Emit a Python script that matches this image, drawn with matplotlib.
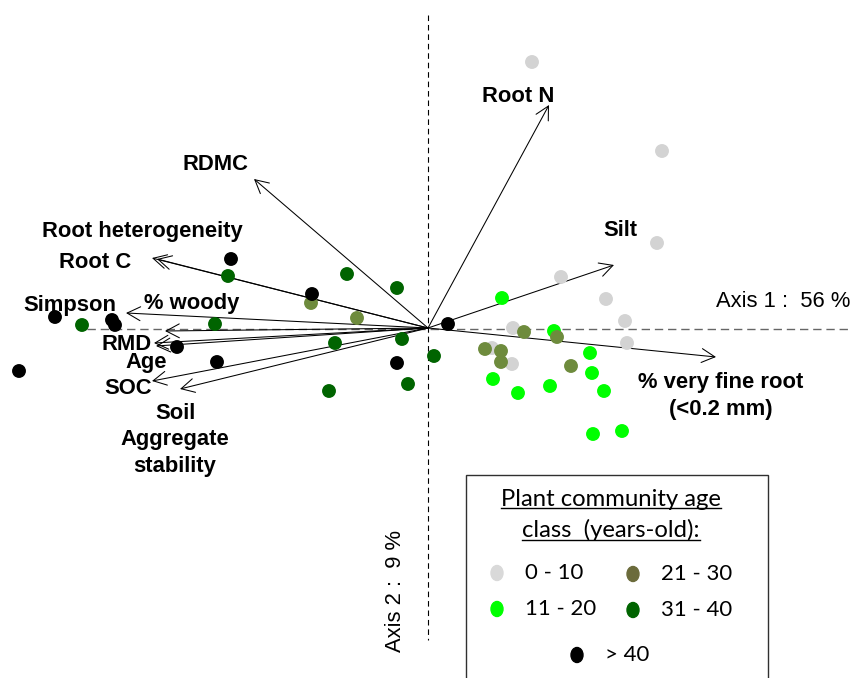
import matplotlib
matplotlib.use('Agg')
import matplotlib.pyplot as plt
from matplotlib.patches import Ellipse, Rectangle

# site scores on axes 1 and 2, by age class
grey_x = [1.04, 2.34, 2.29, 1.33, 1.78, 1.97, 1.99, 0.85, 0.64, 0.84]
grey_y = [2.66, 1.77, 0.85, 0.51, 0.29, 0.07, -0.15, 0.00, -0.20, -0.36]
lgreen_x = [0.74, 1.26, 1.62, 1.64, 1.76, 0.65, 0.90, 1.22, 1.65, 1.94]
lgreen_y = [0.30, -0.03, -0.25, -0.45, -0.63, -0.51, -0.65, -0.58, -1.06, -1.03]
olive_x = [-1.17, -0.71, 0.57, 0.73, 0.73, 0.96, 1.29, 1.43]
olive_y = [0.25, 0.10, -0.21, -0.23, -0.34, -0.04, -0.09, -0.38]
dgreen_x = [-2.00, -0.81, -0.31, -2.13, -3.46, -0.93, -0.26, 0.06, -0.20, -0.99]
dgreen_y = [0.52, 0.54, 0.40, 0.04, 0.03, -0.15, -0.11, -0.28, -0.56, -0.63]
black_x = [-1.97, -1.16, 0.20, -3.73, -3.16, -3.13, -2.51, -4.09, -2.11, -0.31]
black_y = [0.69, 0.34, 0.04, 0.11, 0.08, 0.03, -0.19, -0.43, -0.34, -0.35]

# variable loadings (arrow tips)
var_names = ['Root N', 'RDMC', 'Root heterogeneity', 'Root C', 'Simpson', '% woody',
             'RMD', 'Age', 'SOC', 'Soil\nAggregate\nstability', 'Silt',
             '% very fine root\n(<0.2 mm)']
var_x = [1.21, -1.74, -2.76, -2.71, -3.02, -2.63, -2.74, -2.72, -2.76, -2.48, 1.86, 2.88]
var_y = [2.23, 1.49, 0.70, 0.69, 0.15, -0.03, -0.15, -0.18, -0.53, -0.61, 0.63, -0.29]
# label positions
lab_x = [0.90, -2.13, -2.86, -3.33, -3.58, -2.36, -3.01, -2.82, -3.00, -2.53, 1.92, 2.93]
lab_y = [2.31, 1.64, 0.96, 0.65, 0.22, 0.24, -0.17, -0.35, -0.61, -1.12, 0.97, -0.68]

age_classes = ['0 - 10', '11 - 20', '21 - 30', '31 - 40', '> 40']
point_cols = ['#d3d3d3', '#00ff00', '#6e8b3d', '#006400', '#000000']
legend_cols = ['#d9d9d9', '#00ff00', '#6b6b3b', '#006400', '#000000']

fig = plt.figure(figsize=(8.52, 6.78), dpi=100)
ax = fig.add_axes([0, 0, 1, 1])
ax.set_xlim(-4.28, 4.24)
ax.set_ylim(-3.50, 3.28)
ax.axis('off')

# axes lines
ax.plot([-3.41, 4.24], [-0.01, -0.01], color='#666666', lw=1.0, dashes=(6, 3.5), zorder=1)
ax.plot([0, 0], [3.13, -3.12], color='black', lw=0.8, dashes=(5, 3.5), zorder=1)

for vx, vy in zip(var_x, var_y):
    ax.annotate('', xy=(vx, vy), xytext=(0, 0),
                arrowprops=dict(arrowstyle='->,head_length=0.95,head_width=0.5',
                                mutation_scale=10, lw=0.75, color='black',
                                shrinkA=0, shrinkB=0), zorder=2)

groups = [(grey_x, grey_y), (lgreen_x, lgreen_y), (olive_x, olive_y),
          (dgreen_x, dgreen_y), (black_x, black_y)]
for (gx, gy), c in zip(groups, point_cols):
    ax.scatter(gx, gy, s=100, color=c, edgecolors='none', zorder=3)

for name, lx, ly in zip(var_names, lab_x, lab_y):
    ax.text(lx, ly, name, ha='center', va='center', fontsize=15.8, fontweight='bold',
            family='Liberation Sans', linespacing=1.32, zorder=4)

ax.text(3.55, 0.26, 'Axis 1 :  56 %', ha='center', va='center', fontsize=15.8,
        family='Liberation Sans')
ax.text(-0.33, -2.63, 'Axis 2 :  9 %', ha='center', va='center', fontsize=15.8,
        family='Liberation Sans', rotation=90)

# legend box
ax.add_patch(Rectangle((0.38, -3.7), 3.02, 2.23, facecolor='white',
                       edgecolor='#303030', lw=1.0, zorder=5))
t1 = ax.text(1.83, -1.71, 'Plant community age', ha='center', va='center',
             fontsize=17.2, family='Lato', zorder=6)
t2 = ax.text(1.83, -2.02, 'class  (years-old):', ha='center', va='center',
             fontsize=17.2, family='Lato', zorder=6)

leg_mx = [0.69, 0.69, 2.05, 2.05, 1.49]
leg_my = [-2.45, -2.81, -2.46, -2.82, -3.27]
for mx, my, c, lab in zip(leg_mx, leg_my, legend_cols, age_classes):
    ax.add_patch(Ellipse((mx, my), 0.12, 0.15, color=c, zorder=6))
    ax.text(mx + 0.28, my, lab, ha='left', va='center', fontsize=16,
            family='Lato', zorder=6)

# underline legend title
fig.canvas.draw()
r = fig.canvas.get_renderer()
inv = ax.transData.inverted()
for t in (t1, t2):
    bb = t.get_window_extent(r)
    (x0, y0), (x1, _) = inv.transform([(bb.x0, bb.y0), (bb.x1, bb.y1)])
    ax.plot([x0, x1], [y0 + 0.01, y0 + 0.01], color='black', lw=1.0, zorder=6)

fig.savefig('out.png', dpi=100)
